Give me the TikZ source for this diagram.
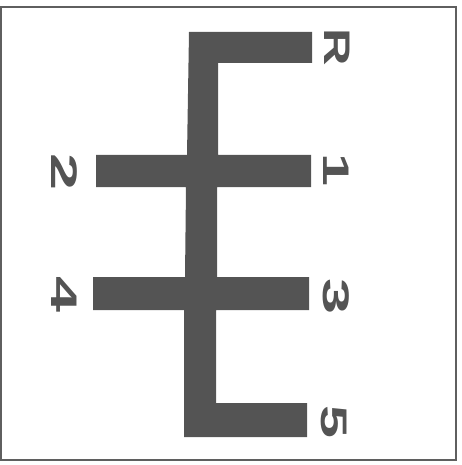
\documentclass[tikz,border=0pt]{standalone}
\usepackage{fontspec}
\setmainfont{Liberation Sans}
\definecolor{slot}{RGB}{84,84,84}
\definecolor{framec}{RGB}{95,95,95}
\tikzset{
  gearlabel/.style={inner sep=0pt, rotate=-90, text=slot, font=\fontsize{37}{37}\selectfont\bfseries},
  frameline/.style={draw=framec, line width=2pt},
}
\newcommand{\wid}[2]{\scalebox{#1}[1]{#2}}
\begin{document}
\begin{tikzpicture}[x=1pt,y=-1pt]
\useasboundingbox (0,0) rectangle (462,465);
\draw[frameline] (1,7) rectangle (456,460);
\fill[slot] (189,32) -- (312,32) -- (312,63) -- (218,63) -- (218,155) -- (311,155) -- (311,187)
  -- (217,187) -- (217,277) -- (309,277) -- (309,310) -- (216,310) -- (216,403) -- (307,403)
  -- (307,437) -- (184,437) -- (184,310) -- (93,310) -- (93,277) -- (185,277) -- (186,187)
  -- (96,187) -- (96,155) -- (187,155) -- cycle;
\node[gearlabel] (R) at (337,47) {\wid{1.4}{R}};
\node[gearlabel] (g1) at (336,170) {\wid{1.6}{1}};
\node[gearlabel] (g3) at (336,297) {\wid{1.75}{3}};
\node[gearlabel] (g5) at (334,422) {\wid{1.6}{5}};
\node[gearlabel] (g2) at (64,172) {\wid{1.8}{2}};
\node[gearlabel] (g4) at (64,295) {\wid{1.75}{4}};
\end{tikzpicture}
\end{document}
